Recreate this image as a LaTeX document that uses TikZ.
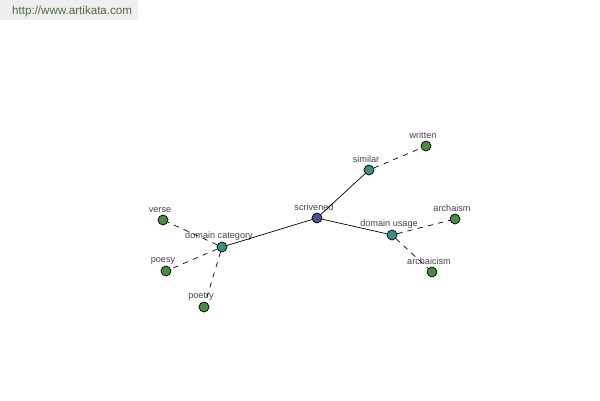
\documentclass[tikz,border=0pt]{standalone}
\usepackage{fontspec}
\setmainfont{Liberation Sans}
\usepackage{xcolor}
\usetikzlibrary{positioning}
\definecolor{rootblue}{HTML}{4A4E9C}
\definecolor{midteal}{HTML}{3E8C8A}
\definecolor{leafgreen}{HTML}{4A8A45}
\definecolor{labelgray}{HTML}{444444}
\definecolor{urlgreen}{HTML}{4F6B3A}
\definecolor{bargray}{HTML}{EEEEEE}

\begin{document}
\begin{tikzpicture}[
  x=0.02cm, y=-0.02cm,
  word/.style={circle, draw, inner sep=0pt, minimum size=0.2cm, line width=0.4pt,
    label={[label distance=-2.6pt, xshift=-1.7pt, text=labelgray, font=\fontsize{5.2}{6}\selectfont]above:#1}},
  root/.style={word=#1, fill=rootblue},
  mid/.style={word=#1, fill=midteal},
  leaf/.style={word=#1, fill=leafgreen},
  solidlink/.style={line width=0.4pt},
  dashlink/.style={dashed, dash pattern=on 3pt off 3pt, line width=0.4pt}
]
\useasboundingbox[fill=white] (0,0) rectangle (600,400);
\fill[bargray] (0,0) rectangle (138,20);
\node[anchor=west, text=urlgreen, font=\fontsize{6.6}{8}\selectfont] (url) at (6,11) {http://www.artikata.com};

\node[root=scrivened] (scrivened) at (317,218) {};
\node[mid=similar] (similar) at (369,170) {};
\node[mid=domain usage] (usage) at (392,235) {};
\node[mid=domain category] (category) at (222,247) {};
\node[leaf=written] (written) at (426,146) {};
\node[leaf=archaism] (archaism) at (455,219) {};
\node[leaf=archaicism] (archaicism) at (432,272) {};
\node[leaf=verse] (verse) at (163,220) {};
\node[leaf=poesy] (poesy) at (166,271) {};
\node[leaf=poetry] (poetry) at (204,307) {};

\draw[solidlink] (scrivened) -- (similar);
\draw[solidlink] (scrivened) -- (usage);
\draw[solidlink] (scrivened) -- (category);
\draw[dashlink] (similar) -- (written);
\draw[dashlink] (usage) -- (archaism);
\draw[dashlink] (usage) -- (archaicism);
\draw[dashlink] (category) -- (verse);
\draw[dashlink] (category) -- (poesy);
\draw[dashlink] (category) -- (poetry);
\end{tikzpicture}
\end{document}
